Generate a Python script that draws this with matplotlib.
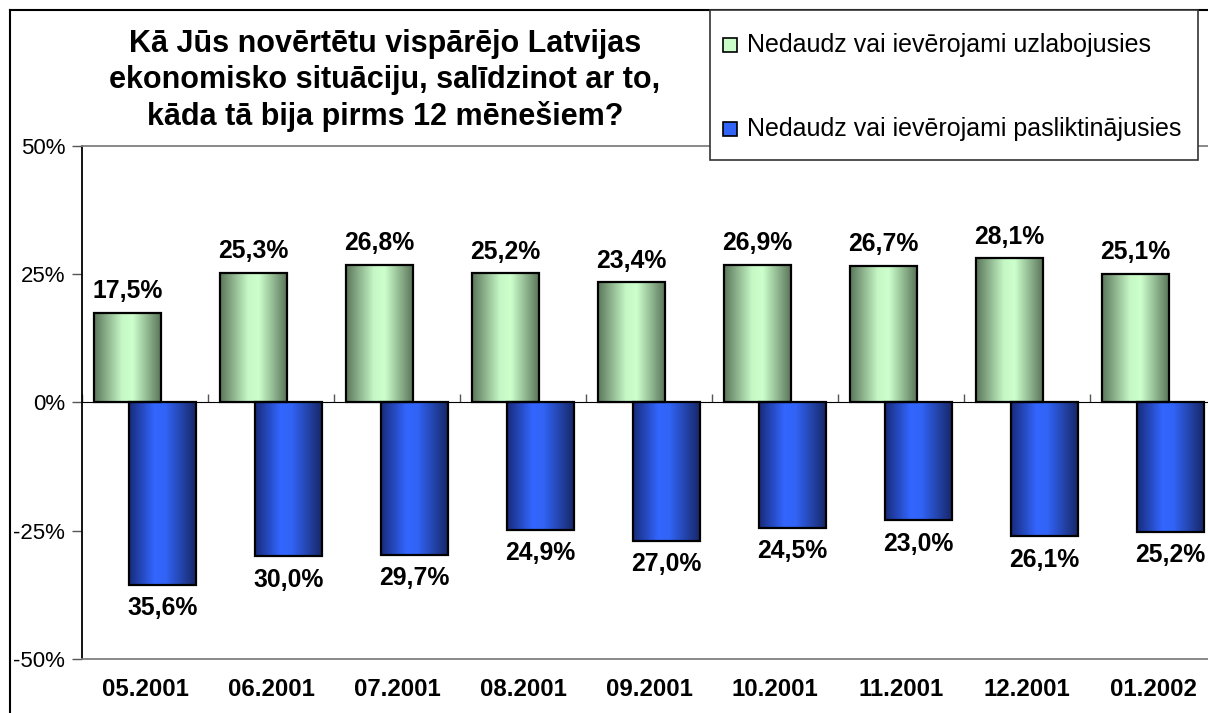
import numpy as np
import matplotlib
matplotlib.use("Agg")
import matplotlib.pyplot as plt
from matplotlib.colors import LinearSegmentedColormap
from matplotlib.patches import Rectangle
from matplotlib.lines import Line2D

plt.rcParams['font.family'] = ['Liberation Sans', 'DejaVu Sans']

categories = ["05.2001", "06.2001", "07.2001", "08.2001", "09.2001",
              "10.2001", "11.2001", "12.2001", "01.2002"]
improved = [17.5, 25.3, 26.8, 25.2, 23.4, 26.9, 26.7, 28.1, 25.1]
worsened = [-35.6, -30.0, -29.7, -24.9, -27.0, -24.5, -23.0, -26.1, -25.2]
series_names = ["Nedaudz vai ievērojami uzlabojusies",
                "Nedaudz vai ievērojami pasliktinājusies"]
title_lines = ["Kā Jūs novērtētu vispārējo Latvijas",
               "ekonomisko situāciju, salīdzinot ar to,",
               "kāda tā bija pirms 12 mēnešiem?"]
yticks = [-50, -25, 0, 25, 50]

green_cmap = LinearSegmentedColormap.from_list(
    "g", [(0, "#5b765a"), (0.42, "#c6f8c6"), (0.58, "#ccffcc"), (1, "#5b765a")])
blue_cmap = LinearSegmentedColormap.from_list(
    "b", [(0, "#172b7a"), (0.38, "#3366ff"), (0.55, "#3163f5"), (1, "#172868")])

W, H = 1208, 713
fig = plt.figure(figsize=(W / 100, H / 100), dpi=100)
ax = fig.add_axes([82 / W, 1 - 659 / H, 1134 / W, (659 - 146) / H])

x = np.arange(len(categories))
bw = 0.53
off = 0.14
grad = np.linspace(0, 1, 256).reshape(1, -1)


def gradient_bars(xs, vals, cmap):
    bars = ax.bar(xs, vals, width=bw, facecolor="none", edgecolor="black",
                  linewidth=1.6, zorder=4)
    for b in bars:
        x0, y0 = b.get_x(), b.get_y()
        w, h = b.get_width(), b.get_height()
        im = ax.imshow(grad, cmap=cmap, aspect="auto",
                       extent=(x0, x0 + w, min(y0, y0 + h), max(y0, y0 + h)),
                       zorder=3, interpolation="bilinear")
        im.set_clip_path(b)
    return bars


gb = gradient_bars(x - off, improved, green_cmap)
bb = gradient_bars(x + off, worsened, blue_cmap)

for xi, v in zip(x - off, improved):
    ax.annotate(f"{v:.1f}%".replace(".", ","), (xi, v), xytext=(0, 7),
                textcoords="offset points", ha="center", va="bottom",
                fontsize=17.8, fontweight="bold", zorder=6)
for xi, v in zip(x + off, worsened):
    ax.annotate(f"{abs(v):.1f}%".replace(".", ","), (xi, v), xytext=(0, -8),
                textcoords="offset points", ha="center", va="top",
                fontsize=17.8, fontweight="bold", zorder=6)

ax.set_xlim(-0.5, len(categories) - 0.5)
ax.set_ylim(-50, 50)
ax.set_yticks(yticks)
ax.set_yticklabels([f"{t}%" for t in yticks], fontsize=16)
ax.tick_params(axis="y", direction="out", length=7, width=1, color="#555555", pad=5)
ax.set_xticks(x)
ax.set_xticklabels(categories, fontsize=17.3, fontweight="bold")
ax.tick_params(axis="x", length=0, pad=14)

for s in ["top", "bottom"]:
    ax.spines[s].set_color("#808080")
    ax.spines[s].set_linewidth(1.3)
ax.spines["right"].set_visible(False)
ax.spines["left"].set_color("black")
ax.spines["left"].set_linewidth(1.3)

sec = ax.secondary_xaxis(0.5)
sec.set_xticks(np.arange(len(categories) + 1) - 0.5)
sec.set_xticklabels([])
sec.tick_params(direction="out", length=6, width=1, color="#555555")
sec.spines["bottom"].set_color("#808080")
sec.spines["bottom"].set_linewidth(1.3)

# title
for i, line in enumerate(title_lines):
    fig.text(385 / W, 1 - (44 + 36 * i) / H, line, ha="center", va="center",
             fontsize=22, fontweight="bold")

# legend box
fig.patches.append(Rectangle((710 / W, 1 - 160 / H), 488 / W, 150 / H,
                             transform=fig.transFigure, facecolor="white",
                             edgecolor="#333333", linewidth=1.2, zorder=10))
for i, (name, cmap) in enumerate(zip(series_names, [green_cmap, blue_cmap])):
    yc = 1 - (45 + 84 * i) / H
    fig.patches.append(Rectangle((723 / W, yc - 7 / H), 14 / W, 14 / H,
                                 transform=fig.transFigure,
                                 facecolor=cmap(0.5), edgecolor="black",
                                 linewidth=1.2, zorder=11))
    fig.text(747 / W, yc, name, ha="left", va="center", fontsize=18, zorder=12)

# outer chart border (left and top)
fig.add_artist(Line2D([10 / W, 10 / W], [0, 1 - 10 / H], transform=fig.transFigure,
                      color="black", linewidth=1.5))
fig.add_artist(Line2D([10 / W, 1], [1 - 10 / H, 1 - 10 / H], transform=fig.transFigure,
                      color="black", linewidth=1.5))

fig.savefig("out.png", dpi=100, facecolor="white")
